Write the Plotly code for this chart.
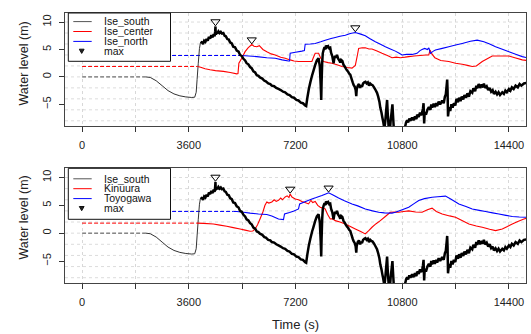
import numpy as np
import plotly.graph_objects as go

# ---------------- data ----------------
# Ise_south (same record in both panels)
south_pre_t = [0, 2150]
south_pre_v = [0.0, 0.0]
south_t = [2150, 2300, 2500, 2700, 2900, 3100, 3300, 3500, 3700, 3800, 3850, 3880, 3920, 3960, 4000,
           4040, 4080, 4120, 4160, 4200, 4240, 4280, 4320, 4360, 4400, 4440, 4470, 4490, 4500, 4510, 4530,
           4560, 4600, 4640, 4680, 4720, 4767, 4810, 4850, 4900, 4950, 4993, 5050, 5100, 5160, 5218, 5280,
           5330, 5390, 5443, 5500, 5550, 5610, 5668, 5720, 5780, 5840, 5894, 5950, 6000, 6080, 6150, 6200,
           6280, 6350, 6400, 6480, 6550, 6626, 6700, 6780, 6850, 6930, 7000, 7077, 7150, 7230, 7300, 7380,
           7450, 7527, 7560, 7600, 7650, 7700, 7760, 7800, 7865, 7920, 7977, 8020, 8050, 8068, 8080, 8100,
           8120, 8147, 8180, 8200, 8230, 8260, 8300, 8340, 8372, 8400, 8440, 8485, 8510, 8540, 8570, 8600,
           8640, 8680, 8710, 8740, 8780, 8820, 8860, 8900, 8935, 8970, 9010, 9048, 9100, 9130, 9160, 9200,
           9230, 9250, 9265, 9300, 9340, 9380, 9410, 9442, 9480, 9520, 9560, 9600, 9640, 9680, 9720, 9760,
           9800, 9850, 9893, 9950, 9990, 10030, 10060, 10100, 10130, 10160, 10200, 10230, 10260, 10290,
           10310, 10340, 10380, 10410, 10440, 10470, 10490, 10520, 10560, 10600, 10700, 10800, 10880,
           10930, 10965, 11000, 11040, 11080, 11133, 11180, 11230, 11280, 11303, 11358, 11400, 11440,
           11480, 11500, 11520, 11540, 11560, 11600, 11650, 11700, 11752, 11780, 11808, 11860, 11900,
           11950, 11979, 12030, 12080, 12148, 12200, 12240, 12270, 12300, 12317, 12330, 12345, 12380,
           12420, 12460, 12500, 12542, 12590, 12630, 12680, 12720, 12767, 12810, 12860, 12900, 12950,
           13000, 13050, 13100, 13162, 13200, 13260, 13300, 13330, 13380, 13430, 13480, 13530, 13555,
           13600, 13650, 13700, 13750, 13800, 13850, 13893, 13949, 14000, 14050, 14100, 14175, 14230,
           14280, 14330, 14400, 14450, 14500, 14560, 14625, 14700, 14760, 14820, 14906, 15000]
south_v = [0.0, -0.1, -0.7, -1.6, -2.5, -3.1, -3.45, -3.65, -3.75, -3.7, -2.8, -0.5, 2.5, 5.2, 6.4,
           6.3, 6.0, 6.6, 6.4, 6.9, 6.6, 7.3, 7.0, 7.6, 7.2, 7.8, 7.4, 8.3, 9.2, 7.7, 8.2,
           7.9, 8.3, 8.0, 8.2, 7.9, 8.0, 7.5, 7.4, 6.9, 6.8, 6.3, 6.1, 5.5, 5.4, 4.8, 4.6,
           4.0, 3.8, 3.3, 3.0, 2.5, 2.3, 1.8, 1.6, 1.0, 0.8, 0.3, 0.2, -0.1, -0.3, -0.7, -0.8,
           -1.2, -1.3, -1.6, -1.7, -2.0, -2.2, -2.4, -2.7, -2.8, -3.2, -3.3, -3.7, -3.8, -4.2, -4.3, -4.7,
           -4.8, -5.2, -5.3, -3.8, -2.2, -1.0, 0.3, 1.0, 2.2, 3.0, 3.4, 2.0, -1.5, -4.2, -1.0, 2.5,
           4.3, 4.9, 5.4, 5.0, 5.7, 5.4, 5.6, 5.2, 5.3, 4.4, 3.8, 2.5, 3.4, 3.8, 3.5, 4.0,
           3.3, 3.0, 2.6, 3.1, 2.9, 2.2, 1.9, 1.5, 1.2, 1.0, 0.6, 0.4, -0.5, -1.0, -1.45, -1.8,
           -2.4, -3.5, -2.3, -1.6, -1.3, -2.0, -1.5, -1.8, -1.2, -1.0, -0.9, -1.2, -1.0, -1.6, -1.2, -1.4,
           -1.5, -1.9, -2.3, -2.9, -3.6, -4.5, -5.6, -6.5, -7.4, -8.2, -9.5, -8.0, -6.0, -4.2,
           -6.5, -9.0, -10.2, -8.0, -6.5, -5.0, -7.0, -9.8, -9.2, -10.5, -10.8, -10.2, -9.5,
           -8.3, -7.9, -8.3, -7.6, -8.0, -7.4, -7.9, -7.2, -7.7, -6.9, -7.3, -6.5, -7.0,
           -6.3, -5.8, -4.8, -8.5, -6.4, -6.9, -6.0, -5.5, -6.0, -5.0, -5.6, -4.9, -5.5,
           -4.8, -5.3, -4.5, -5.0, -4.3, -4.8, -3.6, -3.2, -1.5, -0.5, -2.5, -7.2, -5.5,
           -6.2, -5.0, -5.6, -4.8, -5.2, -4.0, -4.6, -3.8, -4.4, -3.6, -4.1, -3.3, -3.8,
           -3.0, -3.6, -2.6, -2.9, -2.1, -2.6, -1.6, -2.1, -1.3, -2.0, -1.4, -1.9, -1.2,
           -2.0, -1.7, -2.4, -2.0, -2.7, -2.4, -3.1, -2.7, -3.2, -2.8, -3.3, -2.8, -3.1,
           -2.5, -2.8, -2.2, -2.5, -1.9, -2.2, -1.6, -1.9, -1.3, -1.6, -1.2, -1.1]

# Ise_center (top panel)
center_pre_t = [0, 3900]
center_pre_v = [1.9, 1.9]
center_t = [3900, 4000, 4150, 4317, 4500, 4767, 5000, 5218, 5260, 5290, 5387, 5500, 5600, 5724, 5800,
            5894, 5980, 6100, 6232, 6380, 6514, 6700, 6852, 7020, 7150, 7302, 7500, 7753, 7800, 7865,
            7980, 8050, 8147, 8300, 8430, 8600, 8768, 8950, 9106, 9218, 9290, 9330, 9450, 9555, 9680,
            9780, 9950, 10118, 10300, 10456, 10600, 10738, 10900, 11020, 11200, 11400, 11600, 11696,
            11740, 11800, 11900, 12100, 12372, 12600, 12824, 13000, 13162, 13300, 13500, 13700, 13837,
            14100, 14400, 14600, 14850, 15000]
center_v = [1.9, 1.75, 1.5, 1.3, 1.15, 1.0, 0.8, 0.55, 0.6, 2.5, 3.4, 4.6, 5.3, 5.9, 5.6,
            5.5, 5.7, 5.0, 4.6, 4.2, 4.0, 3.6, 3.4, 3.1, 2.9, 2.8, 2.8, 2.8, 3.5, 4.3,
            4.3, 3.4, 2.8, 2.6, 2.5, 2.2, 1.9, 1.7, 1.6, 2.1, 4.0, 5.2, 5.3, 5.3, 5.1,
            5.1, 4.7, 4.3, 3.9, 3.5, 3.6, 3.5, 3.6, 3.7, 3.8, 3.9, 4.0, 4.0,
            4.9, 4.2, 3.5, 3.0, 2.8, 2.5, 2.3, 2.1, 1.9, 2.0, 2.8, 3.4, 3.8,
            3.8, 3.8, 3.5, 3.1, 3.0]

# Ise_north (top panel)
north_pre_t = [0, 5330]
north_pre_v = [3.9, 3.9]
north_t = [5330, 5500, 5894, 6232, 6514, 6750, 6965, 7000, 7020, 7200, 7415, 7500, 7527, 7700, 7865,
           8050, 8203, 8400, 8541, 8700, 8879, 9050, 9218, 9400, 9555, 9700, 9893, 10050, 10231, 10400,
           10569, 10700, 10794, 10950, 11133, 11300, 11400, 11470, 11560, 11650, 11700, 11752, 11850,
           11921, 12150, 12372, 12600, 12824, 13100, 13330, 13555, 13750, 13949, 14200, 14400, 14650,
           14850, 15000]
north_v = [3.9, 3.85, 3.7, 3.5, 3.4, 3.1, 2.9, 2.9, 4.3, 4.5, 4.7, 4.8, 5.95, 6.0, 6.1,
           6.4, 6.7, 7.0, 7.2, 7.4, 7.6, 7.9, 8.1, 7.8, 7.5, 7.0, 6.4, 6.0, 5.5, 5.1,
           4.7, 4.3, 4.0, 4.1, 4.1, 4.3, 4.8, 5.0, 5.2, 5.0, 5.3, 4.3, 4.7,
           4.9, 5.2, 5.5, 5.8, 6.1, 6.5, 6.7, 6.4, 6.0, 5.5, 5.0, 4.6, 4.1,
           3.7, 3.5]

# Kinuura (bottom panel)
kinuura_pre_t = [0, 3870]
kinuura_pre_v = [1.8, 1.8]
kinuura_t = [3870, 4100, 4430, 4650, 4880, 5100, 5330, 5500, 5668, 5760, 5837, 5920, 6006, 6100, 6170,
             6232, 6300, 6401, 6480, 6550, 6626, 6700, 6760, 6852, 6920, 6980, 7020, 7080, 7189, 7300,
             7415, 7520, 7640, 7720, 7780, 7865, 7950, 8034, 8120, 8203, 8280, 8372, 8450, 8541, 8700,
             8879, 9050, 9218, 9400, 9555, 9680, 9780, 9920, 10062, 10230, 10400, 10550, 10682, 10850,
             11020, 11250, 11470, 11650, 11808, 11950, 12148, 12400, 12598, 12800, 13049, 13300, 13500,
             13750, 13949, 14175, 14350, 14513, 14700, 14906, 15000]
kinuura_v = [1.8, 1.75, 1.65, 1.45, 1.25, 1.0, 0.76, 0.55, 0.34, 0.4, 0.76, 1.5, 2.6, 3.8, 5.0,
             5.6, 5.4, 5.6, 6.0, 5.7, 5.9, 6.3, 6.0, 6.5, 6.7, 6.4, 7.05, 6.5, 6.15, 6.0,
             5.7, 5.5, 5.25, 5.9, 5.5, 5.7, 5.0, 4.65, 4.5, 4.35, 3.4, 2.55, 2.6, 2.25, 2.0,
             1.65, 1.2, 0.76, 0.3, -0.14, 0.5, 1.06, 1.7, 2.25, 3.0, 3.75, 3.8, 3.75, 3.9,
             4.0, 3.8, 3.75, 4.2, 4.5, 3.9, 3.45, 3.1, 2.85, 2.3, 1.65, 1.3, 1.06,
             0.7, 0.46, 0.76, 1.2, 1.65, 2.1, 2.55, 2.7]

# Toyogawa (bottom panel)
toyo_pre_t = [0, 5105]
toyo_pre_v = [3.9, 3.9]
toyo_t = [5105, 5218, 5450, 5668, 5950, 6232, 6400, 6626, 6795, 6830, 7000, 7150, 7302, 7340, 7500,
          7753, 7900, 8091, 8200, 8316, 8450, 8654, 8850, 9106, 9300, 9555, 9800, 10005, 10200, 10456,
          10569, 10800, 11020, 11200, 11358, 11550, 11808, 12000, 12260, 12450, 12711, 12950, 13162,
          13400, 13611, 13850, 14062, 14300, 14513, 14750, 15000]
toyo_v = [3.9, 3.9, 3.75, 3.6, 3.45, 3.35, 3.1, 2.55, 2.45, 3.45, 3.7, 4.0, 4.35, 5.25, 5.6,
          6.15, 6.4, 6.75, 7.0, 7.25, 6.9, 6.3, 5.8, 5.25, 4.9, 4.35, 4.0, 3.75, 3.65, 3.6,
          3.75, 4.2, 4.65, 5.3, 5.85, 6.2, 6.45, 6.55, 6.65, 6.1, 5.25, 4.8, 4.35,
          4.1, 3.9, 3.65, 3.45, 3.2, 3.0, 2.9, 2.85]

x_tickvals = [0, 1800, 3600, 5400, 7200, 9000, 10800, 12600, 14400]
x_ticktext = ["0", "", "3600", "", "7200", "", "10800", "", "14400"]
y_tickvals = [-5, 0, 5, 10]
y_grid = [-8, -6, -4, -2, 0, 2, 4, 6, 8, 10]

top_names = ["Ise_south", "Ise_center", "Ise_north", "max"]
bottom_names = ["Ise_south", "Kinuura", "Toyogawa", "max"]

# ---------------- layout geometry ----------------
W, H = 531, 334
ML, MR, MT, MB = 65, 5, 13, 51
PW, PH = W - ML - MR, H - MT - MB
FONT = "Liberation Sans, Arial, sans-serif"
BLACK, RED, BLUE = "#000000", "#ff0000", "#0000ff"
MARK_OFFSET = 0.85


def px(x):
    return (x - ML) / PW


def py(y):
    return (H - MB - y) / PH


fig = go.Figure()


def add_series(t, v, color, width, xa, ya, dash=None):
    fig.add_trace(go.Scatter(x=t, y=v, mode="lines", xaxis=xa, yaxis=ya, showlegend=False,
                             line=dict(color=color, width=width, dash=dash, simplify=False),
                             hoverinfo="skip"))


def add_panel(xa, ya, others):
    add_series(south_pre_t, south_pre_v, "#555555", 1, xa, ya, dash="4px,2px")
    for (pt, pv, t, v, c) in others:
        add_series(pt, pv, c, 1, xa, ya, dash="4px,2px")
    st = np.array(south_t)
    sv = np.array(south_v)
    thin = st <= 4000
    add_series(st[thin], sv[thin], "#333333", 1, xa, ya)
    for (pt, pv, t, v, c) in others:
        add_series(t, v, c, 1.1, xa, ya)
    thick = st >= 4000
    add_series(st[thick], sv[thick], BLACK, 2.5, xa, ya)
    mx, my = [], []
    for (t, v) in [(south_t, south_v)] + [(o[2], o[3]) for o in others]:
        i = int(np.argmax(v))
        mx.append(t[i])
        my.append(v[i] + MARK_OFFSET)
    fig.add_trace(go.Scatter(x=mx, y=my, mode="markers", xaxis=xa, yaxis=ya, showlegend=False,
                             marker=dict(symbol="triangle-down-open", size=8, color=BLACK,
                                         line=dict(width=1, color=BLACK)), hoverinfo="skip"))


add_panel("x", "y", [(center_pre_t, center_pre_v, center_t, center_v, RED),
                     (north_pre_t, north_pre_v, north_t, north_v, BLUE)])
add_panel("x2", "y2", [(kinuura_pre_t, kinuura_pre_v, kinuura_t, kinuura_v, RED),
                       (toyo_pre_t, toyo_pre_v, toyo_t, toyo_v, BLUE)])

xa_common = dict(range=[-576, 14976], tickvals=x_tickvals, ticktext=x_ticktext, ticks="outside",
                 ticklen=5, tickcolor="#333333", showline=True, mirror=True, linecolor="#444444",
                 linewidth=1, showgrid=True, gridcolor="#d8d8d8", griddash="dot", gridwidth=1,
                 zeroline=False, tickfont=dict(family=FONT, size=11, color="#222222"),
                 ticklabelstandoff=4)
ya_common = dict(range=[-8.95, 11.65], tickvals=y_tickvals, ticks="outside", ticklen=5,
                 tickcolor="#333333", showline=True, mirror=True, linecolor="#444444", linewidth=1,
                 showgrid=False, zeroline=False, tickangle=-90,
                 tickfont=dict(family=FONT, size=11, color="#222222"), ticklabelstandoff=4)

top_dom = [py(126), py(13)]
bot_dom = [0, py(168.3)]

fig.update_layout(
    width=W, height=H, margin=dict(l=ML, r=MR, t=MT, b=MB),
    paper_bgcolor="white", plot_bgcolor="white", showlegend=False,
    font=dict(family=FONT, color="#222222"),
    xaxis=dict(domain=[0, 1], anchor="y", **xa_common),
    yaxis=dict(domain=top_dom, anchor="x", **ya_common),
    xaxis2=dict(domain=[0, 1], anchor="y2", **xa_common),
    yaxis2=dict(domain=bot_dom, anchor="x2", **ya_common),
)

shapes = []
annotations = []
for ya, xa in [("y", "x"), ("y2", "x2")]:
    for g in y_grid:
        shapes.append(dict(type="line", xref=xa + " domain", yref=ya, x0=0, x1=1, y0=g, y1=g,
                           line=dict(color="#dcdcdc", width=1, dash="dot"), layer="below"))

ROW_H = 9.8


def legend(box, rows, names, colors):
    x0, y0, x1, y1 = box
    shapes.append(dict(type="rect", xref="paper", yref="paper", x0=px(x0), x1=px(x1),
                       y0=py(y1), y1=py(y0), fillcolor="white", line=dict(color="#111111", width=1),
                       layer="above"))
    for r, name, c in zip(rows, names, colors):
        if c is None:
            path = "M {} {} L {} {} L {} {} Z".format(px(79.3), py(r - 2.0), px(84.1), py(r - 2.0),
                                                       px(81.7), py(r + 2.2))
            shapes.append(dict(type="path", xref="paper", yref="paper", path=path,
                               fillcolor="#222222", line=dict(color="#111111", width=1),
                               layer="above"))
        else:
            shapes.append(dict(type="line", xref="paper", yref="paper", x0=px(73.3), x1=px(91.7),
                               y0=py(r), y1=py(r), line=dict(color=c, width=1), layer="above"))
        annotations.append(dict(xref="paper", yref="paper", x=px(102.5), y=py(r + 0.7), text=name,
                                showarrow=False, xanchor="left", yanchor="middle", borderpad=0,
                                height=ROW_H, valign="bottom",
                                font=dict(family=FONT, size=10.5, color="#111111")))


legend((68.3, 13, 170.5, 61.3), [21.6, 31.5, 41.4, 51.2], top_names, ["#555555", RED, BLUE, None])
legend((68.3, 168.3, 170.5, 219.3), [178.8, 188.7, 198.6, 208.5], bottom_names,
       ["#555555", RED, BLUE, None])

for yc in [64, 218]:
    annotations.append(dict(xref="paper", yref="paper", x=px(23.5), y=py(yc), text="Water level (m)",
                            textangle=-90, showarrow=False, xanchor="center", yanchor="middle",
                            font=dict(family=FONT, size=12.5, color="#222222")))
annotations.append(dict(xref="paper", yref="paper", x=px(295), y=py(324), text="Time (s)",
                        showarrow=False, xanchor="center", yanchor="middle",
                        font=dict(family=FONT, size=13, color="#222222")))

fig.update_layout(shapes=shapes, annotations=annotations)
fig.write_html("out.html")
